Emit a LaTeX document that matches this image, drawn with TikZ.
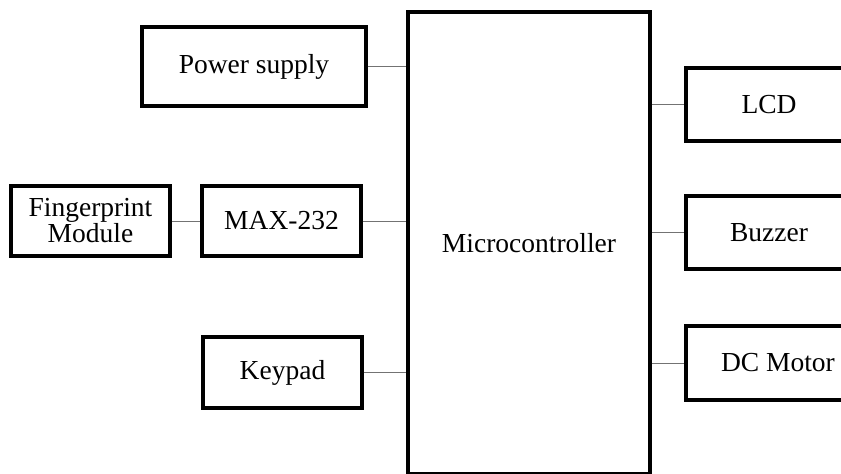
\documentclass[tikz,border=0pt]{standalone}
\usepackage{fontspec}
\setmainfont{Liberation Serif}
\begin{document}
\begin{tikzpicture}[x=1pt,y=-1pt,
  blk/.style={draw, line width=3.2pt, inner sep=0pt, align=center,
    font=\fontsize{27.5}{22}\selectfont},
  wire/.style={draw=black!55, line width=1pt}]
\useasboundingbox (0,0) rectangle (841,474);
\clip (0,0) rectangle (841,474);
\node[blk, minimum width=224pt, minimum height=79pt] (ps) at (254,66.5) {Power supply};
\node[blk, minimum width=159pt, minimum height=70pt] (fp) at (90.5,221) {Fingerprint\\Module};
\node[blk, minimum width=159pt, minimum height=70pt] (max) at (281.5,221) {MAX-232};
\node[blk, minimum width=159pt, minimum height=71pt] (key) at (282.5,372.5) {Keypad};
\node[blk, minimum width=242pt, minimum height=461.5pt] (mc) at (529,242.75) {Microcontroller};
\node[blk, minimum width=166pt, minimum height=73pt] (lcd) at (769,104.5) {LCD};
\node[blk, minimum width=166pt, minimum height=73pt] (buz) at (769,232.5) {Buzzer};
\node[blk, minimum width=166pt, minimum height=74pt] (dcm) at (769,363) {\hspace*{18pt}DC Motor};
\draw[wire] (ps.east) -- (ps.east -| mc.west);
\draw[wire] (fp.east) -- (max.west);
\draw[wire] (max.east) -- (max.east -| mc.west);
\draw[wire] (key.east) -- (key.east -| mc.west);
\draw[wire] (mc.east |- lcd.west) -- (lcd.west);
\draw[wire] (mc.east |- buz.west) -- (buz.west);
\draw[wire] (mc.east |- dcm.west) -- (dcm.west);
\end{tikzpicture}
\end{document}
